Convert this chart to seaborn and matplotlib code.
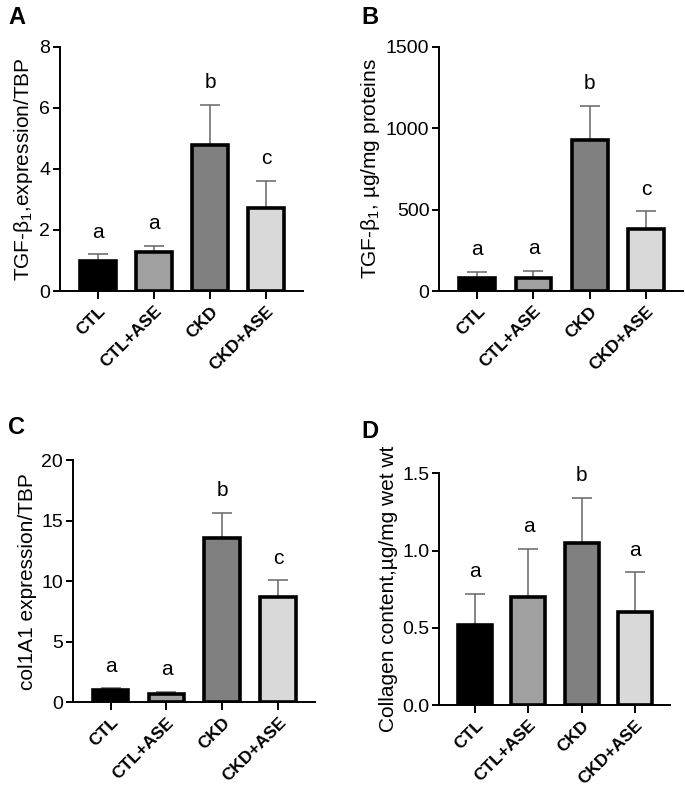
import numpy as np
import pandas as pd
import seaborn as sns
import matplotlib
matplotlib.use("Agg")
import matplotlib.pyplot as plt

groups = ["CTL", "CTL+ASE", "CKD", "CKD+ASE"]
bar_colors = ["#000000", "#a0a0a0", "#808080", "#d9d9d9"]

# panel A: TGF-b1 expression
tgf_expr = [1.0, 1.29, 4.77, 2.71]
tgf_expr_sd = [0.21, 0.19, 1.34, 0.91]
tgf_expr_letters = ["a", "a", "b", "c"]

# panel B: TGF-b1 protein
tgf_prot = [82, 80, 927, 379]
tgf_prot_sd = [37, 43, 211, 110]
tgf_prot_letters = ["a", "a", "b", "c"]

# panel C: col1A1 expression
col_expr = [1.0, 0.66, 13.55, 8.7]
col_expr_sd = [0.15, 0.19, 2.09, 1.4]
col_expr_letters = ["a", "a", "b", "c"]

# panel D: collagen content
collagen = [0.52, 0.70, 1.05, 0.60]
collagen_sd = [0.20, 0.31, 0.29, 0.26]
collagen_letters = ["a", "a", "b", "a"]

sns.set_theme(style="ticks")
plt.rcParams["font.family"] = ["Liberation Sans", "DejaVu Sans"]
plt.rcParams["mathtext.fontset"] = "custom"
plt.rcParams["mathtext.rm"] = "Liberation Sans"
plt.rcParams["mathtext.default"] = "regular"
for key in ["text.color", "axes.labelcolor", "xtick.color", "ytick.color", "axes.edgecolor"]:
    plt.rcParams[key] = "black"

fig = plt.figure(figsize=(6.85, 7.88), dpi=100)

panels = [
    ("A", tgf_expr, tgf_expr_sd, tgf_expr_letters, "TGF-β$_1$,expression/TBP",
     [0, 2, 4, 6, 8], "{:g}", [0.0876, 0.6307, 0.3545, 0.3097]),
    ("B", tgf_prot, tgf_prot_sd, tgf_prot_letters, "TGF-β$_1$, µg/mg proteins",
     [0, 500, 1000, 1500], "{:g}", [0.641, 0.6307, 0.356, 0.31]),
    ("C", col_expr, col_expr_sd, col_expr_letters, "col1A1 expression/TBP",
     [0, 5, 10, 15, 20], "{:g}", [0.106, 0.1088, 0.354, 0.3072]),
    ("D", collagen, collagen_sd, collagen_letters, "Collagen content,µg/mg wet wt",
     [0.0, 0.5, 1.0, 1.5], "{:.1f}", [0.641, 0.1053, 0.337, 0.2941]),
]

label_pos = {"A": (0.012, 0.992), "B": (0.528, 0.992), "C": (0.012, 0.472), "D": (0.528, 0.467)}

for name, vals, sds, letters, ylabel, yticks, fmt, rect in panels:
    ax = fig.add_axes(rect)
    df = pd.DataFrame({"group": groups, "value": vals})
    sns.barplot(data=df, x="group", y="value", hue="group", palette=bar_colors,
                errorbar=None, width=0.64, edgecolor="black", linewidth=2.6,
                legend=False, ax=ax, zorder=3)
    x = np.arange(len(groups))
    ax.errorbar(x, vals, yerr=[np.zeros(len(sds)), sds], fmt="none",
                ecolor="#666666", elinewidth=1.1, capsize=7, capthick=1.1, zorder=2)
    tops = np.array(vals) + np.array(sds)
    for xi, t, lab in zip(x, tops, letters):
        ax.annotate(lab, (xi, t), xytext=(0, 9), textcoords="offset points",
                    ha="center", va="bottom", fontsize=15)
    ax.set_xlim(-0.68, 3.66)
    ax.set_ylim(yticks[0], yticks[-1])
    ax.set_yticks(yticks)
    ax.set_yticklabels([fmt.format(v) for v in yticks])
    ax.set_xticks(x)
    ax.set_xticklabels(groups, rotation=45, ha="right", rotation_mode="anchor",
                       fontweight="bold", fontsize=12.5)
    ax.set_xlabel("")
    ax.set_ylabel(ylabel, fontsize=15, labelpad=3)
    ax.tick_params(axis="y", labelsize=14, length=5, width=1.4, pad=2)
    ax.tick_params(axis="x", length=6, width=1.4, pad=3)
    for s in ["left", "bottom"]:
        ax.spines[s].set_linewidth(1.4)
    sns.despine(ax=ax)
    fig.text(*label_pos[name], name, fontsize=17, fontweight="bold", va="top", ha="left")

fig.savefig("out.png", dpi=100)
